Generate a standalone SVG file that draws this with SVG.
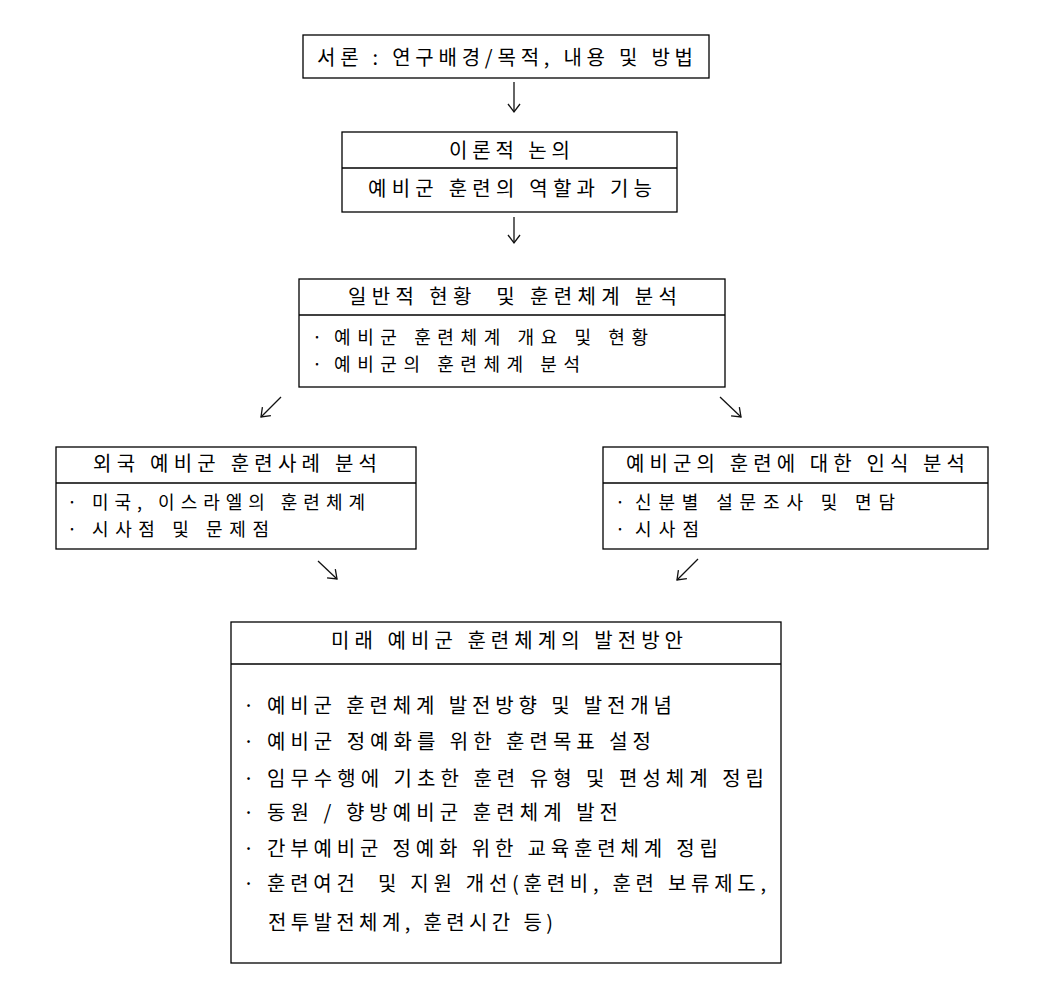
<svg xmlns="http://www.w3.org/2000/svg" width="1056" height="992" viewBox="0 0 1056 992">
<defs>
<style>
rect.box{fill:#fff;stroke:#000;stroke-width:1.3}
line.div{stroke:#000;stroke-width:1.3}
text{font-family:"Noto Sans CJK KR","Noto Sans",sans-serif;font-size:20px;fill:#000;white-space:pre}
text.sm{font-size:18px}
.conn line{stroke:#111;stroke-width:1.3;fill:none}
</style>
<marker id="ah" viewBox="-10 -10 20 20" markerWidth="20" markerHeight="20" markerUnits="userSpaceOnUse" orient="auto" refX="0" refY="0">
<path d="M-8,-6 L0,0 L-8,6" fill="none" stroke="#111" stroke-width="1.3"/>
</marker>
</defs>
<rect width="1056" height="992" fill="#fff"/>

<g id="node-intro">
<rect class="box" x="303" y="35" width="406" height="43"/>
<text x="317" y="65" textLength="376" lengthAdjust="spacing">서론 : 연구배경/목적, 내용 및 방법</text>
</g>

<g id="node-theory">
<rect class="box" x="342" y="132" width="335" height="80"/>
<line class="div" x1="342" y1="168" x2="677" y2="168"/>
<text x="449" y="158" textLength="121" lengthAdjust="spacing">이론적 논의</text>
<text x="368" y="196" textLength="284" lengthAdjust="spacing">예비군 훈련의 역할과 기능</text>
</g>

<g id="node-general">
<rect class="box" x="299" y="279" width="426" height="108"/>
<line class="div" x1="299" y1="315" x2="725" y2="315"/>
<text x="348" y="304" textLength="329" lengthAdjust="spacing">일반적 현황  및 훈련체계 분석</text>
<text class="sm" x="312" y="344">·</text>
<text class="sm" x="334" y="344" textLength="314" lengthAdjust="spacing">예비군 훈련체계 개요 및 현황</text>
<text class="sm" x="312" y="371">·</text>
<text class="sm" x="334" y="371" textLength="246" lengthAdjust="spacing">예비군의 훈련체계 분석</text>
</g>

<g id="node-foreign">
<rect class="box" x="56" y="447" width="360" height="102"/>
<line class="div" x1="56" y1="483" x2="416" y2="483"/>
<text x="93" y="471" textLength="284" lengthAdjust="spacing">외국 예비군 훈련사례 분석</text>
<text class="sm" x="67" y="509">·</text>
<text class="sm" x="92" y="509" textLength="273" lengthAdjust="spacing">미국, 이스라엘의 훈련체계</text>
<text class="sm" x="67" y="536">·</text>
<text class="sm" x="92" y="536" textLength="177" lengthAdjust="spacing">시사점 및 문제점</text>
</g>

<g id="node-perception">
<rect class="box" x="603" y="447" width="385" height="102"/>
<line class="div" x1="603" y1="483" x2="988" y2="483"/>
<text x="626" y="471" textLength="339" lengthAdjust="spacing">예비군의 훈련에 대한 인식 분석</text>
<text class="sm" x="615" y="509">·</text>
<text class="sm" x="635" y="509" textLength="260" lengthAdjust="spacing">신분별 설문조사 및 면담</text>
<text class="sm" x="615" y="536">·</text>
<text class="sm" x="635" y="536" textLength="64" lengthAdjust="spacing">시사점</text>
</g>

<g id="node-future">
<rect class="box" x="231" y="622" width="550" height="341"/>
<line class="div" x1="231" y1="664" x2="781" y2="664"/>
<text x="331" y="648" textLength="352" lengthAdjust="spacing">미래 예비군 훈련체계의 발전방안</text>
<text x="243" y="713">·</text>
<text x="267" y="713" textLength="405" lengthAdjust="spacing">예비군 훈련체계 발전방향 및 발전개념</text>
<text x="243" y="749">·</text>
<text x="267" y="749" textLength="384" lengthAdjust="spacing">예비군 정예화를 위한 훈련목표 설정</text>
<text x="243" y="786">·</text>
<text x="267" y="786" textLength="497" lengthAdjust="spacing">임무수행에 기초한 훈련 유형 및 편성체계 정립</text>
<text x="243" y="820">·</text>
<text x="267" y="820" textLength="351" lengthAdjust="spacing">동원 / 향방예비군 훈련체계 발전</text>
<text x="243" y="856">·</text>
<text x="267" y="856" textLength="451" lengthAdjust="spacing">간부예비군 정예화 위한 교육훈련체계 정립</text>
<text x="243" y="891">·</text>
<text x="267" y="891" textLength="499" lengthAdjust="spacing">훈련여건  및 지원 개선(훈련비, 훈련 보류제도,</text>
<text x="268" y="930" textLength="285" lengthAdjust="spacing">전투발전체계, 훈련시간 등)</text>
</g>

<g id="connectors" class="conn">
<line x1="514" y1="82" x2="514" y2="112" marker-end="url(#ah)"/>
<line x1="514" y1="217" x2="514" y2="243" marker-end="url(#ah)"/>
<line x1="281" y1="397" x2="261" y2="417" marker-end="url(#ah)"/>
<line x1="720" y1="397" x2="741" y2="417" marker-end="url(#ah)"/>
<line x1="318" y1="561" x2="337" y2="579" marker-end="url(#ah)"/>
<line x1="698" y1="559" x2="677" y2="580" marker-end="url(#ah)"/>
</g>
</svg>
